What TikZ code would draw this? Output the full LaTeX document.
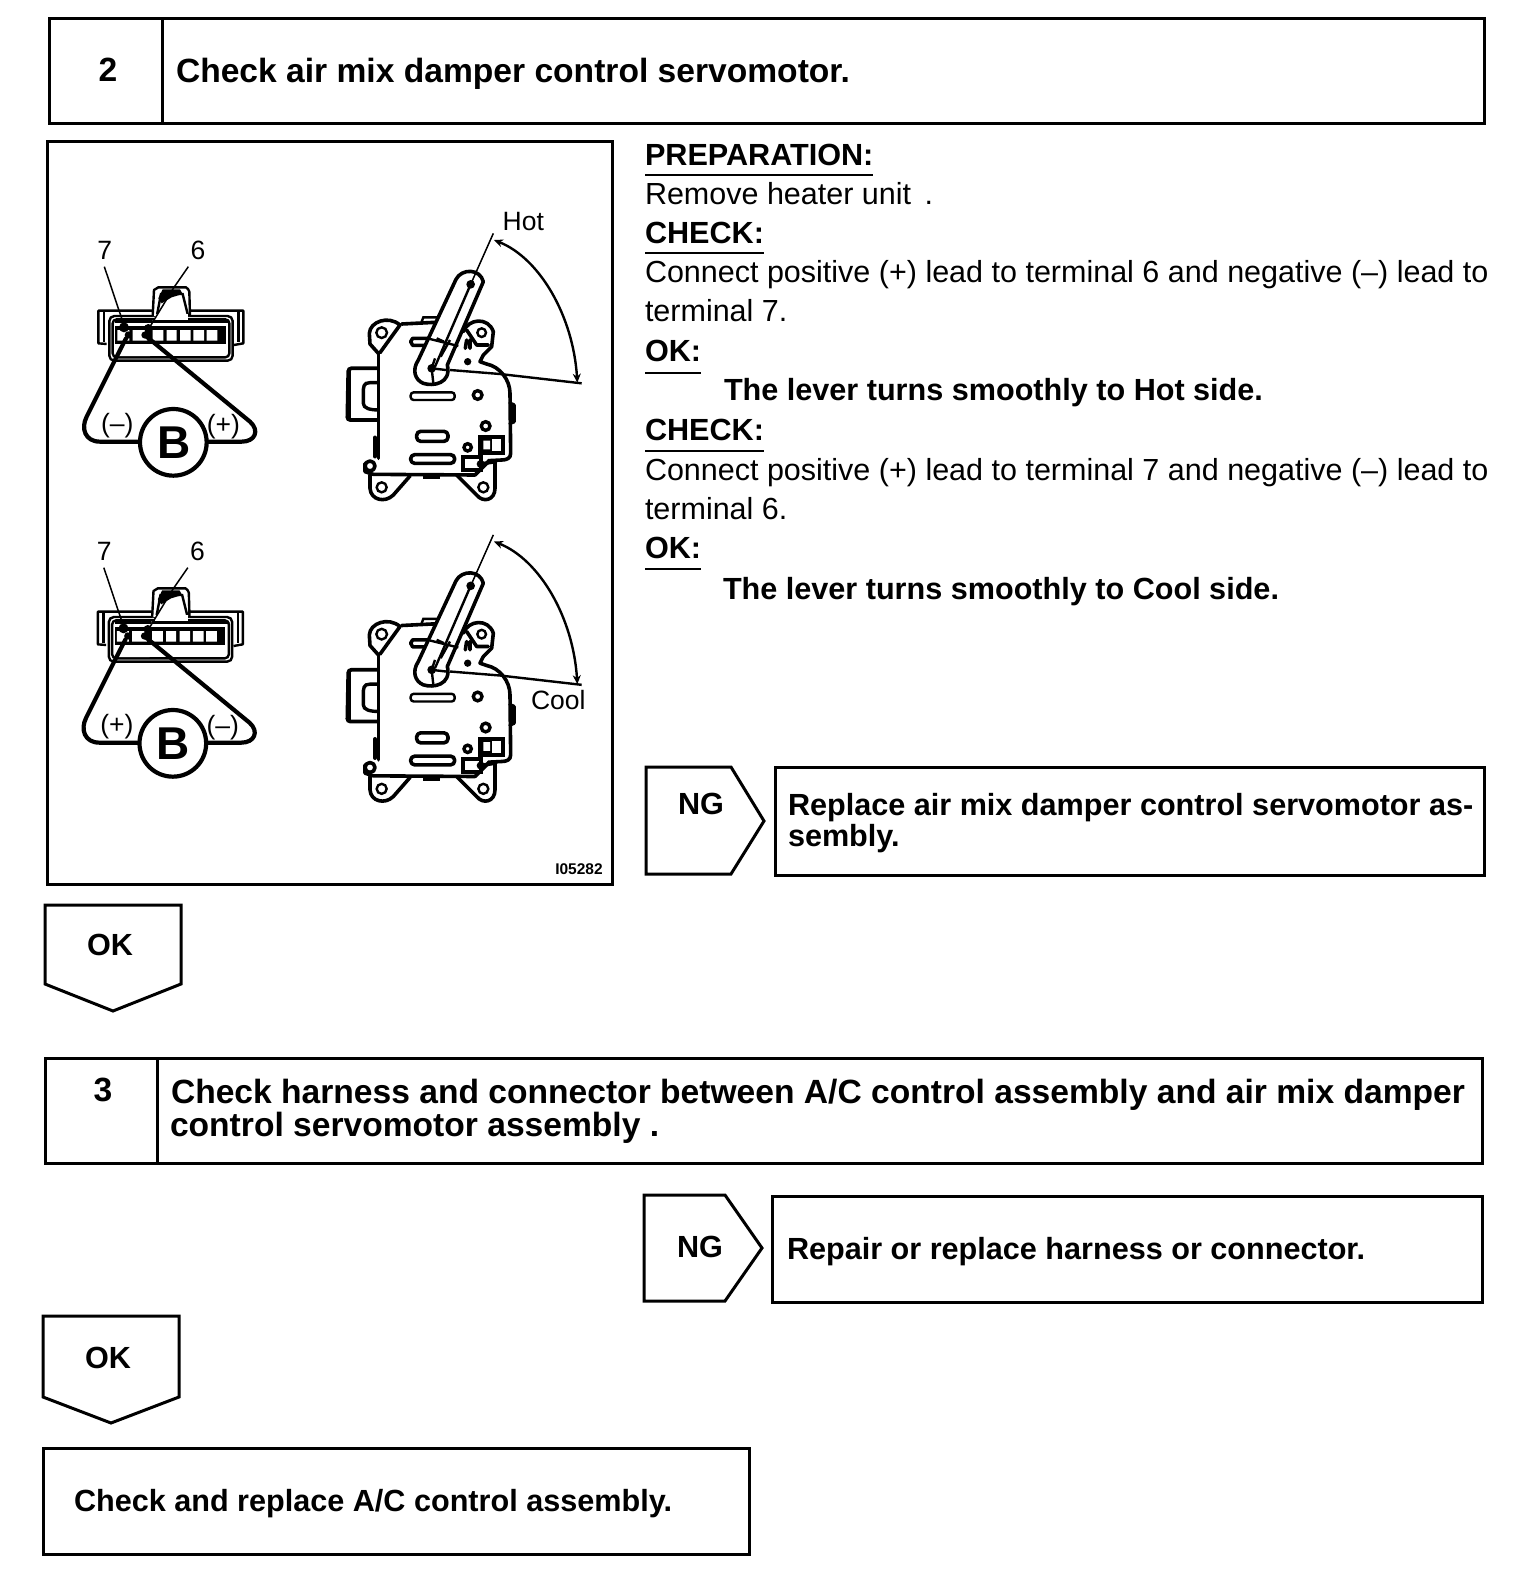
\documentclass[tikz,border=0pt]{standalone}
\usepackage{fontspec}
\setmainfont{Liberation Sans}
\usetikzlibrary{arrows.meta}
\newcommand\bt{\fontsize{33.6}{33.6}\selectfont\bfseries}
\newcommand\bs{\fontsize{30.6}{30.6}\selectfont\bfseries}
\newcommand\rg{\fontsize{30.5}{30.5}\selectfont}
\newcommand\lb{\fontsize{26.5}{26.5}\selectfont}
\tikzset{
 frame/.style={draw=black,line width=3pt,line join=miter},
 txt/.style={anchor=base west,inner sep=0pt,outer sep=0pt},
 mid/.style={anchor=center,inner sep=0pt,outer sep=0pt},
 ul/.style={line width=1.6pt},
 thinl/.style={line width=1.5pt},
 medl/.style={line width=2.4pt},
 thickl/.style={line width=3.6pt,line join=round,line cap=round},
 wire/.style={line width=4.2pt,line join=round,line cap=round},
}
\newcommand\conn[5]{%
\begin{scope}[shift={(#2pt,-#3pt)},x=.33333pt,y=-.33333pt]
 \draw[medl,line join=round] (140,462)--(115,460)--(115,362)--(550,362)--(550,460)--(522,465);
 \draw[medl] (132,362)--(132,455) (535,362)--(535,455);
 \draw[medl,fill=white,rounded corners=5pt] (148,378) rectangle (518,512);
 \draw[medl,rounded corners=4pt] (158,388) rectangle (508,502);
 \draw[medl,fill=white,line join=round] (278,378)--(282,300)to[bend left=20](295,292)--(378,292)to[bend left=20](388,305)--(390,378);
 \draw[medl,fill=white] (290,380)--(303,312)--(368,312)--(385,380);
 \fill (295,325)--(308,298)--(360,298)--(368,312)--(335,322)--(305,340)--cycle;
 \fill[white] (285,372) rectangle (385,392);
 \draw[medl,fill=white] (165,395)--(275,395);
 \draw[thickl,rounded corners=3pt] (280,395)--(505,395);
 \fill (165,408) rectangle (498,462);
 \fill[white] (172,420) rectangle (208,452) (218,420) rectangle (262,452)
   (278,420) rectangle (310,452) (320,420) rectangle (350,452)
   (360,420) rectangle (392,452) (400,420) rectangle (432,452) (440,420) rectangle (472,452)
   (175,464) rectangle (270,498);
 \fill (192,412) circle (15) (265,415) circle (13) (205,435) circle (11) (255,435) circle (11);
 \draw[thinl] (133,230)--(185,385) (385,230)--(340,295) (340,295)--(270,410);
 \draw[wire] (198,445)--(165,510)--(80,680) .. controls (62,715) and (75,755) .. (120,755)--(240,755);
 \draw[wire] (260,440)--(570,695) .. controls (600,722) and (585,755) .. (545,755)--(440,755);
 \draw[line width=4.2pt,fill=white] (340,757) circle (100);
 \node[mid] (#1b) at (342,757) {\fontsize{46}{46}\selectfont\bfseries B};
 \node[mid] (#1l) at (172,708) {\lb #4};
 \node[mid] (#1r) at (490,710) {\lb #5};
 \node[mid] (#1s) at (134,180) {\lb 7};
 \node[mid] (#1x) at (414,180) {\lb 6};
\end{scope}}
\newcommand\servo[3]{%
\begin{scope}[shift={(#1pt,-#2pt)},x=.33333pt,y=-.33333pt]
 % left block
 \draw[line width=3.8pt,fill=white,rounded corners=3pt] (178,535)--(85,535)--(82,690)--(178,690);
 \draw[line width=3.4pt] (178,578)--(150,578)..controls(130,578)and(130,590)..(130,610)--(130,640)..controls(130,655)and(150,660)..(178,660);
 \draw[line width=2.6pt] (88,540)--(88,685);
 % ears
 \draw[thickl,fill=white] (175,490)--(150,462)--(148,430) .. controls (150,395) and (205,375) .. (240,405) -- (180,488);
 \draw[medl] (185,428) circle (16);
 \draw[thickl,fill=white] (430,425) .. controls (445,385) and (505,380) .. (520,425)--(515,470)--(490,495);
 \draw[medl] (485,428) circle (13);
 \draw[thickl] (440,420)--(470,465)--(505,465);
 % body
 \draw[thickl] (245,402)--(345,397);
 \draw[medl] (305,395)--(310,382)--(352,382);
 \draw[thickl] (175,490)--(175,805);
 \draw[thickl] (490,495)--(480,515)--(500,522) .. controls (540,530) and (570,570) .. (570,610)--(572,790) .. controls (572,805) and (560,810) .. (545,810)--(505,812);
 \draw[thickl] (165,742)--(165,800);
 \draw[thickl] (570,640)--(582,645)--(582,695)--(570,700);
 \draw[thickl] (135,820)--(135,845)--(160,853)--(465,855)--(505,815);
 \draw[thickl,fill=white] (150,828) circle (15);
 \draw[line width=4pt] (310,862)--(360,862);
 % bottom ears
 \draw[thickl] (150,855)--(150,895) .. controls (152,930) and (195,940) .. (220,915)--(270,858);
 \draw[medl] (185,892) circle (15);
 \draw[thickl] (410,855)--(470,915) .. controls (490,940) and (525,930) .. (525,895)--(525,815);
 \draw[medl] (490,892) circle (15);
 % slots
 \draw[medl,rounded corners=3pt] (272,607) rectangle (404,630);
 \draw[thickl,rounded corners=4pt] (290,724) rectangle (384,754);
 \draw[thickl,rounded corners=4pt] (272,794) rectangle (404,820);
 \draw[thickl] (330,445)--(278,445)--(272,455)--(278,466)--(325,466);
 \draw[thickl] (440,450)--(436,475) (450,450)--(450,475);
 % small parts
 \draw[line width=3.4pt] (473,615) circle (13) (497,708) circle (13) (443,772) circle (11);
 \fill (443,515) circle (11);
 \draw[line width=4pt] (480,742) rectangle (550,790);
 \fill (480,742) rectangle (515,790);
 \fill[white] (490,752) rectangle (510,778) (520,752) rectangle (542,778);
 \draw[line width=4pt,fill=white] (430,802) rectangle (482,840);
 \fill (482,822) circle (12);
 \draw[thickl] (482,822)--(525,815);
 % arm
 \draw[thickl,fill=white] (295,510)--(408,268) .. controls (425,235) and (480,235) .. (490,275)--(382,525) .. controls (395,580) and (340,590) .. (310,580) .. controls (285,570) and (275,540) .. (295,510)--cycle;
 \draw[medl] (330,447)--(415,468) (350,445)--(372,455) (362,500)--(390,450);
 \draw[medl] (345,530)--(452,283);
 \fill (452,283) circle (13) (335,535) circle (13);
 \draw[medl] (335,535)--(345,505) (335,535)--(378,540) (335,535)--(340,580);
 % sweep
 \draw[thinl] (452,283)--(520,130);
 \draw[medl] (390,540)--(540,552)--(785,580);
 \draw[medl,{Stealth[length=9pt,width=8pt]}-{Stealth[length=9pt,width=8pt]}] (522,150) .. controls (660,205) and (760,380) .. (772,578);
 #3
\end{scope}}
\begin{document}
\begin{tikzpicture}[x=1pt,y=-1pt]
\useasboundingbox (0,0) rectangle (1536,1588);
\fill[white] (0,0) rectangle (1536,1588);
% step 2 header
\draw[frame] (49,18) rectangle (1484,123);
\draw[frame] (162,18)--(162,123);
\node[mid] (n2) at (108,70) {\bt 2};
\node[txt] (t2) at (176,82) {\bt Check air mix damper control servomotor.};
% illustration
\draw[frame] (47,141) rectangle (612,884);
\conn{ca}{60}{190}{(–)}{(+)}
\conn{cb}{59.5}{491}{(+)}{(–)}
\servo{320}{190}{\node[mid] (hot) at (610,95) {\lb Hot};}
\servo{320}{491.5}{\node[mid] (cool) at (715,625) {\lb Cool};}
\node[mid] (code) at (579,869) {\fontsize{15.5}{15.5}\selectfont\bfseries I05282};
% instructions
\node[txt] (a1) at (645,165.5) {\bs PREPARATION:};
\draw[ul] (645,175)--(873,175);
\node[txt] (a2) at (645,204.5) {\rg Remove heater unit\, .};
\node[txt] (a3) at (645,243.5) {\bs CHECK:};
\draw[ul] (645,253)--(764,253);
\node[txt] (a4) at (645,282.5) {\rg Connect positive (+) lead to terminal 6 and negative (–) lead to};
\node[txt] (a5) at (645,321.5) {\rg terminal 7.};
\node[txt] (a6) at (645,361.5) {\bs OK:};
\draw[ul] (645,373)--(701,373);
\node[txt] (a7) at (724,400.5) {\bs The lever turns smoothly to Hot side.};
\node[txt] (a8) at (645,440.5) {\bs CHECK:};
\draw[ul] (645,451)--(764,451);
\node[txt] (a9) at (645,480.5) {\rg Connect positive (+) lead to terminal 7 and negative (–) lead to};
\node[txt] (a10) at (645,519.5) {\rg terminal 6.};
\node[txt] (a11) at (645,558.5) {\bs OK:};
\draw[ul] (645,569)--(701,569);
\node[txt] (a12) at (723,599) {\bs The lever turns smoothly to Cool side.};
% NG 1
\draw[frame] (646,767)--(731,767)--(764,821)--(731,874)--(646,874)--cycle;
\node[mid] (ng1) at (701,804) {\bs NG};
\draw[frame] (775,767) rectangle (1484,875);
\node[txt] (r1) at (788,815) {\bs Replace air mix damper control servomotor as-};
\node[txt] (r2) at (788,846) {\bs sembly.};
% OK 1
\draw[frame] (45,905)--(181,905)--(181,984)--(113,1011)--(45,984)--cycle;
\node[mid] (ok1) at (110,945) {\bs OK};
% step 3 header
\draw[frame] (45,1058) rectangle (1482,1163);
\draw[frame] (157,1058)--(157,1163);
\node[mid] (n3) at (103,1090) {\bt 3};
\node[txt] (t3) at (171,1103.5) {\bt Check harness and connector between A/C control assembly and air mix damper};
\node[txt] (t4) at (170,1136) {\bt control servomotor assembly .};
% NG 2
\draw[frame] (644,1195)--(725,1195)--(762,1248)--(725,1301)--(644,1301)--cycle;
\node[mid] (ng2) at (700,1247) {\bs NG};
\draw[frame] (772,1196) rectangle (1482,1302);
\node[txt] (r3) at (787,1259.5) {\bs Repair or replace harness or connector.};
% OK 2
\draw[frame] (43,1316)--(179,1316)--(179,1397)--(111,1423)--(43,1397)--cycle;
\node[mid] (ok2) at (108,1358) {\bs OK};
% final
\draw[frame] (43,1448) rectangle (749,1554);
\node[txt] (f) at (74,1511.5) {\bs Check and replace A/C control assembly.};
\end{tikzpicture}
\end{document}
